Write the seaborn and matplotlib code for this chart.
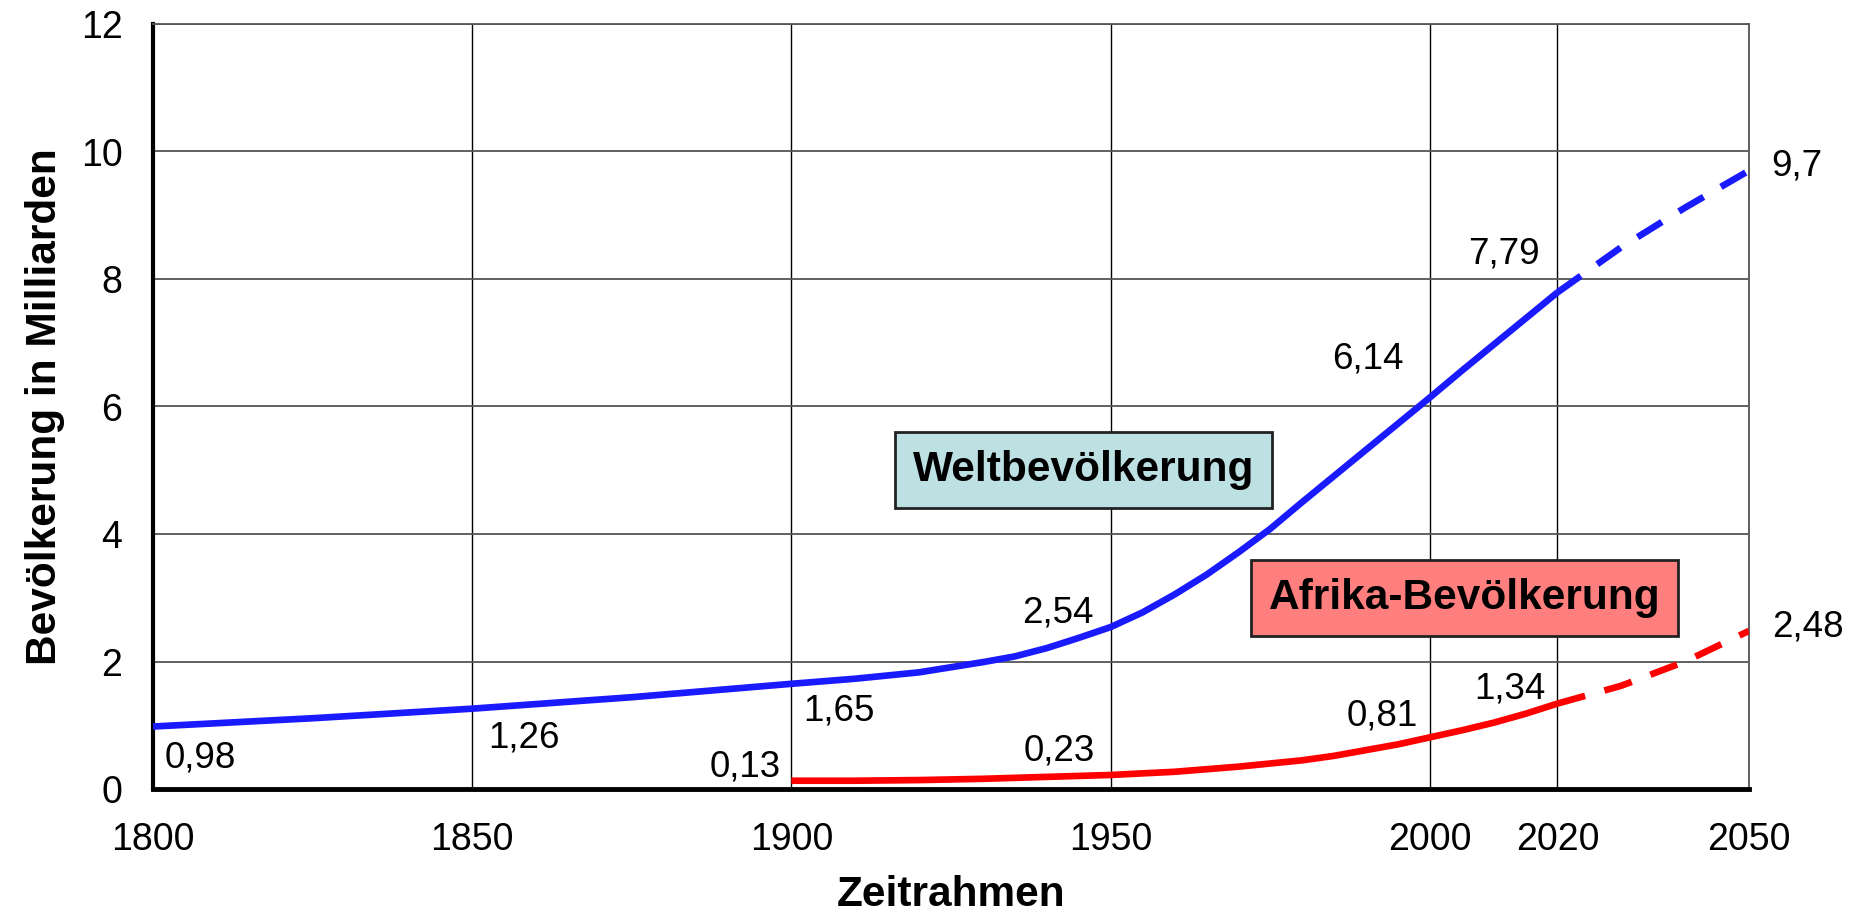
import matplotlib
matplotlib.use("Agg")
import matplotlib.pyplot as plt
import pandas as pd
import seaborn as sns

# ---------------- data ----------------
world_years = [1800, 1825, 1850, 1875, 1900, 1910, 1920, 1930, 1935, 1940,
               1945, 1950, 1955, 1960, 1965, 1970, 1975, 1980, 1985, 1990,
               1995, 2000, 2005, 2010, 2015, 2020]
world_pop = [0.98, 1.11, 1.26, 1.44, 1.65, 1.73, 1.83, 1.99, 2.08, 2.21,
             2.37, 2.54, 2.77, 3.05, 3.36, 3.71, 4.08, 4.50, 4.91, 5.32,
             5.73, 6.14, 6.56, 6.97, 7.38, 7.79]
world_proj_years = [2020, 2030, 2040, 2050]
world_proj_pop = [7.79, 8.50, 9.12, 9.70]

africa_years = [1900, 1910, 1920, 1930, 1940, 1950, 1960, 1970, 1980, 1985,
                1990, 1995, 2000, 2005, 2010, 2015, 2020]
africa_pop = [0.13, 0.13, 0.14, 0.16, 0.19, 0.22, 0.27, 0.35, 0.45, 0.52,
              0.61, 0.70, 0.81, 0.92, 1.04, 1.18, 1.34]
africa_proj_years = [2020, 2030, 2040, 2050]
africa_proj_pop = [1.34, 1.62, 2.00, 2.48]

x_ticks = [1800, 1850, 1900, 1950, 2000, 2020, 2050]
y_ticks = [0, 2, 4, 6, 8, 10, 12]

x_label = "Zeitrahmen"
y_label = "Bevölkerung in Milliarden"
world_name = "Weltbevölkerung"
africa_name = "Afrika-Bevölkerung"

# ---------------- style ----------------
sns.set_theme(style="white")
plt.rcParams["font.family"] = ["Liberation Sans", "DejaVu Sans"]
plt.rcParams["text.color"] = "black"
plt.rcParams["axes.labelcolor"] = "black"
plt.rcParams["xtick.color"] = "black"
plt.rcParams["ytick.color"] = "black"

BLUE = "#1a1aff"
RED = "#ff0000"

fig = plt.figure(figsize=(18.63, 9.13), dpi=100)
ax = fig.add_axes([153 / 1863, 1 - 789 / 913, (1749 - 153) / 1863, (789 - 24) / 913])

world = pd.DataFrame({"Jahr": world_years, "Bev": world_pop})
world_p = pd.DataFrame({"Jahr": world_proj_years, "Bev": world_proj_pop})
africa = pd.DataFrame({"Jahr": africa_years, "Bev": africa_pop})
africa_p = pd.DataFrame({"Jahr": africa_proj_years, "Bev": africa_proj_pop})

lw = 4.8
dash = (0, (4.3, 3.0))
sns.lineplot(data=world, x="Jahr", y="Bev", color=BLUE, lw=lw, errorbar=None,
             ax=ax, zorder=4, solid_capstyle="butt", solid_joinstyle="round")
sns.lineplot(data=world_p, x="Jahr", y="Bev", color=BLUE, lw=lw, errorbar=None,
             ax=ax, zorder=4, linestyle=dash, dash_capstyle="butt")
sns.lineplot(data=africa, x="Jahr", y="Bev", color=RED, lw=lw, errorbar=None,
             ax=ax, zorder=4, solid_capstyle="butt", solid_joinstyle="round")
sns.lineplot(data=africa_p, x="Jahr", y="Bev", color=RED, lw=lw, errorbar=None,
             ax=ax, zorder=4, linestyle=dash, dash_capstyle="butt")

ax.set_xlim(1800, 2050)
ax.set_ylim(0, 12)
ax.set_xticks(x_ticks)
ax.set_yticks(y_ticks)
ax.set_xticklabels([str(t) for t in x_ticks])
ax.set_yticklabels([str(t) for t in y_ticks])
ax.tick_params(axis="both", length=0, labelsize=27, colors="black")
ax.tick_params(axis="y", pad=22)
ax.tick_params(axis="x", pad=24)

ax.xaxis.grid(True, color="black", lw=1.0, zorder=1)
ax.yaxis.grid(True, color="#555555", lw=1.3, zorder=1)
ax.set_axisbelow(True)

for side in ["top", "right"]:
    ax.spines[side].set_color("#555555")
    ax.spines[side].set_linewidth(1.3)
ax.spines["left"].set_color("black")
ax.spines["left"].set_linewidth(3.0)
ax.spines["bottom"].set_color("black")
ax.spines["bottom"].set_linewidth(3.5)
ax.spines["bottom"].set_zorder(5)

ax.set_xlabel(x_label, fontsize=30.5, fontweight="bold", labelpad=12, color="black")
ax.set_ylabel(y_label, fontsize=30.5, fontweight="bold", labelpad=11, color="black")


def fmt(v):
    return f"{v:g}".replace(".", ",")


def val(years, pops, y):
    return pops[years.index(y)]


# value labels: (year, value, dx px, dy px, ha)
labels = [
    (1800, val(world_years, world_pop, 1800), 12, -41, "left"),
    (1850, val(world_years, world_pop, 1850), 16, -39, "left"),
    (1900, val(world_years, world_pop, 1900), 12, -37, "left"),
    (1950, val(world_years, world_pop, 1950), -17, 5, "right"),
    (2000, val(world_years, world_pop, 2000), -26, 29, "right"),
    (2020, val(world_years, world_pop, 2020), -18, 29, "right"),
    (2050, val(world_proj_years, world_proj_pop, 2050), 22, -5, "left"),
    (1900, 0.13, -11, 4, "right"),
    (1950, 0.23, -16, 14, "right"),
    (2000, val(africa_years, africa_pop, 2000), -12, 12, "right"),
    (2020, val(africa_years, africa_pop, 2020), -12, 5, "right"),
    (2050, val(africa_proj_years, africa_proj_pop, 2050), 23, -6, "left"),
]
for yr, v, dx, dy, ha in labels:
    ax.annotate(fmt(v), xy=(yr, v), xytext=(dx, dy), textcoords="offset pixels",
                ha=ha, va="baseline", fontsize=26.5, color="black",
                annotation_clip=False, zorder=6)

ax.text(1945.8, 5.0, world_name, ha="center", va="center", fontsize=30.5,
        fontweight="bold", zorder=7, color="black",
        bbox=dict(boxstyle="square,pad=0.42", facecolor="#bde0e3",
                  edgecolor="#222222", linewidth=2))
ax.text(2005.4, 3.0, africa_name, ha="center", va="center", fontsize=30.5,
        fontweight="bold", zorder=7, color="black",
        bbox=dict(boxstyle="square,pad=0.42", facecolor="#ff7f7f",
                  edgecolor="#222222", linewidth=2))

fig.savefig("out.png", dpi=100, facecolor="white")
